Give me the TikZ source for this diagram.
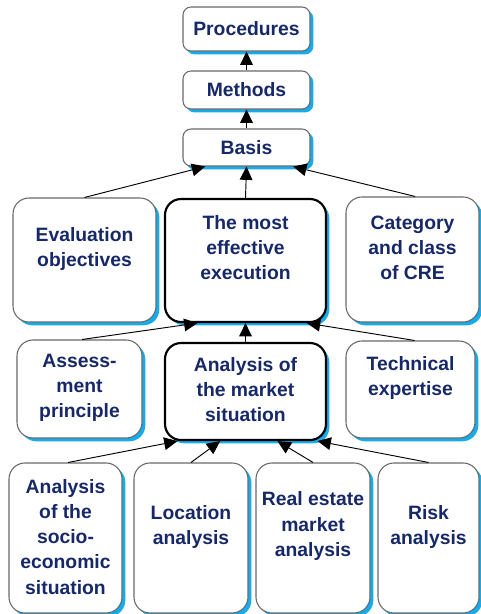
\documentclass[tikz,border=0pt]{standalone}
\usepackage{fontspec}
\setmainfont{Liberation Sans}
\usetikzlibrary{arrows.meta,shadows}
\definecolor{navy}{RGB}{22,40,104}
\definecolor{skyblue}{RGB}{20,172,235}
\definecolor{edgegray}{RGB}{105,105,105}

\tikzset{
  box/.style={draw=edgegray, line width=0.8pt, fill=white, inner sep=0pt, rounded corners=12pt,
    drop shadow={shadow xshift=2.5pt, shadow yshift=-2.5pt, fill=skyblue, opacity=1}},
  topbox/.style={box, rounded corners=6pt},
  mainbox/.style={box, draw=black, line width=1.6pt},
  lbl/.style={font=\fontsize{14.5}{18.8}\selectfont\bfseries, text=navy, align=center, inner sep=0pt},
  arr/.style={-{Triangle[length=10pt,width=9.5pt]}, line width=0.7pt}
}

\begin{document}
\begin{tikzpicture}[x=0.75pt,y=0.75pt,yscale=-1,xscale=1]

\useasboundingbox (0,0) rectangle (480,614);

\node[topbox, minimum width=95.25pt, minimum height=33pt] (proc) at (246.5,29) {};
\node[lbl] (proctext) at (246.5,29) {Procedures};

\node[topbox, minimum width=95.25pt, minimum height=28.5pt] (meth) at (246.5,90) {};
\node[lbl] (methtext) at (246.5,90) {Methods};

\node[topbox, minimum width=95.25pt, minimum height=27.75pt] (basis) at (246.5,147.5) {};
\node[lbl] (basistext) at (246.5,148) {Basis};

\node[box, minimum width=107.25pt, minimum height=93pt] (eval) at (84.5,260) {};
\node[lbl] (evaltext) at (84.5,249) {Evaluation\\objectives};

\node[mainbox, minimum width=120.75pt, minimum height=92.25pt] (effect) at (245.5,260.5) {};
\node[lbl] (effecttext) at (245.5,248) {The most\\effective\\execution};

\node[box, minimum width=99.75pt, minimum height=93.75pt] (cat) at (412.5,259.5) {};
\node[lbl] (cattext) at (412.5,248) {Category\\and class\\of CRE};

\node[box, minimum width=93.75pt, minimum height=73.5pt] (assess) at (79.5,389) {};
\node[lbl] (assesstext) at (79.5,388) {Assess-\\ment\\principle};

\node[mainbox, minimum width=120.75pt, minimum height=72.75pt] (market) at (245.5,391.5) {};
\node[lbl] (markettext) at (245.5,390) {Analysis of\\the market\\situation};

\node[box, minimum width=96.75pt, minimum height=72.75pt] (tech) at (410.5,389.5) {};
\node[lbl] (techtext) at (410.5,378) {Technical\\expertise};

\node[box, minimum width=84.75pt, minimum height=112.5pt] (socio) at (65.5,538) {};
\node[lbl] (sociotext) at (65.5,537) {Analysis\\of the\\socio-\\economic\\situation};

\node[box, minimum width=85.5pt, minimum height=112.5pt] (loc) at (191,538) {};
\node[lbl] (loctext) at (191,527) {Location\\analysis};

\node[box, minimum width=85.5pt, minimum height=112.5pt] (estate) at (313,538) {};
\node[lbl] (estatetext) at (313,526) {Real estate\\market\\analysis};

\node[box, minimum width=75.75pt, minimum height=112.5pt] (risk) at (428.5,538) {};
\node[lbl] (risktext) at (428.5,527) {Risk\\analysis};

\draw[arr] (meth.north) -- (proc.south);
\draw[arr] (basis.north) -- (meth.south);

\draw[arr] (eval.north) -- ([xshift=-31pt]basis.south);
\draw[arr] (effect.north) -- (basis.south);
\draw[arr] ([xshift=2pt]cat.north) -- ([xshift=35pt]basis.south);

\draw[arr] ([xshift=2pt]assess.north) -- ([xshift=-36pt]effect.south);
\draw[arr] (market.north) -- (effect.south);
\draw[arr] ([xshift=3pt]tech.north) -- ([xshift=46pt]effect.south);

\draw[arr] ([xshift=2pt]socio.north) -- ([xshift=-51pt]market.south);
\draw[arr] (loc.north) -- ([xshift=-19pt]market.south);
\draw[arr] (estate.north) -- ([xshift=24pt]market.south);
\draw[arr] (risk.north) -- ([xshift=54pt]market.south);

\end{tikzpicture}
\end{document}
